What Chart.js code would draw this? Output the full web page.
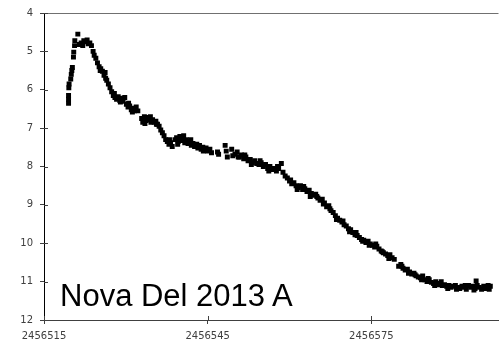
<!DOCTYPE html>
<html><head><meta charset="utf-8">
<script src="https://cdn.jsdelivr.net/npm/chart.js@4"></script>
<style>
html,body{margin:0;padding:0;background:#fff;}
#wrap{position:relative;width:502px;height:341px;overflow:hidden;}
#label{position:absolute;left:60px;top:280px;font:31px/1 "Liberation Sans",Arial,sans-serif;color:#000;white-space:nowrap;}
</style></head><body>
<div id="wrap"><canvas id="c" width="502" height="341"></canvas><div id="label">Nova Del 2013 A</div></div>
<script>
// Julian Date origin and axis range
const JD0 = 2456515;
const JD_MAX = 2456598.3;
const xTickValues = [2456515, 2456545, 2456575];
const MAG_MIN = 4;
const MAG_MAX = 12;

// days after JD0
const dayOffsets = [
 4.5,4.5,4.5,4.55,4.6, 4.9,5.0,5.1,5.2, 5.4,5.45,5.6,5.65, 6.2,
 6.5,6.8,7.1,7.3,7.6,7.9,8.1,8.4,8.7,
 9.0,9.2,9.5,9.8,10.1,10.4,10.7,11.0,11.2,11.5,11.8,12.1,12.4,12.7,13.0,13.3,13.6,13.9,14.2,14.5,14.8,15.1,15.4,15.7,16.0,16.3,16.6,16.9,17.2,
 17.9,18.1,18.4,18.7,19.0,19.3,19.6,19.9,20.2,20.5,20.8,21.1,21.4,21.7,22.0,22.3,22.6,22.9,23.2,23.5,
 24.0,24.3,24.6,24.9,25.2,25.5,25.8,26.1,26.4,26.7,27.0,27.3,27.6,27.9,28.2,28.5,28.8,29.1,29.4,29.7,30.0,30.4,
 30.7,31.8,32.0,33.2,33.4,33.6,34.4,34.6,
 35.0,35.4,35.8,36.2,36.6,37.0,37.4,37.8,38.2,38.6,39.0,39.4,39.8,40.2,40.6,41.0,41.4,41.8,42.2,42.6,43.0,43.5,43.8,
 44.2,44.6,45.0,45.4,45.8,46.2,46.6,47.0,47.4,47.8,48.2,48.6,49.0,49.4,49.8,50.2,50.6,51.0,51.4,51.8,52.2,52.6,53.0,53.4,53.8,
 54.2,54.6,55.0,55.4,55.8,56.2,56.6,57.0,57.4,57.8,58.2,58.6,59.0,59.4,59.8,60.2,60.6,61.0,61.4,61.8,62.2,62.6,63.0,63.4,63.8,64.2,
 65.0,65.4,65.8,66.2,66.6,67.0,67.4,67.8,68.2,68.6,69.0,69.4,69.8,70.2,70.6,71.0,71.4,71.8,72.2,72.6,73.0,73.4,73.8,74.2,74.6,
 75.0,75.4,75.8,76.2,76.6,77.0,77.4,77.8,78.2,78.6,79.0,79.4,79.8,80.2,80.6,81.0,81.4,81.8,
 10.3,11.3,12.9,14.0,15.5,16.2,18.5,19.5,20.6,23.0,24.5,25.6,26.9,28.0,29.2,35.6,36.8,38.0,39.6,41.2,42.8,
 45.2,46.4,47.6,48.8,50.0,51.2,52.4,53.6,54.8,56.0,57.2,58.4,59.6,60.8,62.0,63.2,
 65.6,66.8,68.0,69.2,70.4,71.6,72.8,74.0,75.6,77.2,78.8,79.2,80.8,81.6
];
// visual magnitude
const magnitudes = [
 6.35,6.25,6.15,5.95,5.85, 5.72,5.6,5.5,5.42, 5.15,5.02,4.85,4.72, 4.55,
 4.82,4.78,4.85,4.72,4.75,4.7,4.8,4.78,4.85,
 5.0,5.1,5.18,5.3,5.4,5.45,5.52,5.62,5.55,5.75,5.85,5.95,6.05,6.15,6.2,6.25,6.18,6.28,6.22,6.3,6.2,6.38,6.45,6.42,6.52,6.48,6.55,6.45,6.55,
 6.75,6.85,6.7,6.8,6.72,6.78,6.85,6.78,6.85,6.82,6.9,6.95,7.05,7.12,7.2,7.3,7.35,7.42,7.38,7.48,
 7.3,7.25,7.35,7.22,7.32,7.28,7.38,7.3,7.4,7.35,7.45,7.4,7.48,7.45,7.52,7.45,7.55,7.5,7.58,7.52,7.6,7.55,
 7.64,7.62,7.68,7.45,7.6,7.75,7.55,7.72,
 7.68,7.62,7.75,7.7,7.8,7.75,7.85,7.82,7.9,7.85,7.92,7.95,7.9,8.0,7.95,8.05,8.0,8.08,8.05,8.12,8.05,7.92,8.15,
 8.25,8.3,8.38,8.45,8.42,8.5,8.55,8.5,8.6,8.58,8.65,8.62,8.7,8.75,8.72,8.82,8.88,8.85,8.95,9.05,9.02,9.15,9.2,9.28,9.35,
 9.4,9.45,9.52,9.55,9.62,9.65,9.72,9.78,9.8,9.85,9.9,9.92,9.98,9.95,10.02,10.05,10.1,10.08,10.15,10.2,10.25,10.28,10.32,10.3,10.38,10.42,
 10.6,10.55,10.65,10.7,10.68,10.75,10.8,10.78,10.85,10.88,10.9,10.85,10.95,11.0,10.95,11.02,11.05,11.0,11.08,11.05,11.1,11.08,11.12,11.1,11.15,
 11.12,11.1,11.15,11.18,11.12,11.15,11.2,11.1,11.15,11.12,11.18,11.1,11.15,11.2,11.12,11.15,11.1,11.12,
 5.5,5.7,6.1,6.32,6.35,6.58,6.88,6.7,6.9,7.3,7.42,7.2,7.3,7.42,7.6,7.75,7.7,7.95,7.85,8.12,8.0,
 8.35,8.6,8.52,8.78,8.78,8.98,9.1,9.38,9.42,9.7,9.72,9.95,10.05,10.02,10.22,10.4,
 10.6,10.78,10.82,10.95,10.92,11.1,11.0,11.18,11.2,11.1,11.22,10.98,11.18,11.2
];

const points = dayOffsets.map((d, i) => ({ x: JD0 + d, y: magnitudes[i] }));

const frame = {
  id: 'frame',
  afterDraw(chart) {
    const { ctx, chartArea: a, scales } = chart;
    ctx.save();
    ctx.lineWidth = 1;
    ctx.strokeStyle = '#707070';
    ctx.beginPath();
    ctx.moveTo(a.left, a.top + 0.5);
    ctx.lineTo(a.right, a.top + 0.5);
    ctx.stroke();
    // inner halves of cross tick marks
    ctx.strokeStyle = '#404040';
    ctx.beginPath();
    scales.x.ticks.forEach(t => {
      const px = Math.round(scales.x.getPixelForValue(t.value)) + 0.5;
      ctx.moveTo(px, a.bottom);
      ctx.lineTo(px, a.bottom - 4);
    });
    scales.y.ticks.forEach(t => {
      const py = Math.round(scales.y.getPixelForValue(t.value)) + 0.5;
      ctx.moveTo(a.left, py);
      ctx.lineTo(a.left + 4, py);
    });
    ctx.stroke();
    ctx.restore();
  }
};

new Chart(document.getElementById('c'), {
  type: 'scatter',
  data: { datasets: [{
    data: points,
    pointStyle: 'rect',
    pointRadius: 3.5,
    pointHoverRadius: 3.5,
    backgroundColor: '#000',
    borderColor: '#000',
    borderWidth: 0
  }]},
  options: {
    responsive: false,
    animation: false,
    devicePixelRatio: 1,
    layout: { padding: { top: 12, left: 0, right: 0, bottom: 0 } },
    plugins: { legend: { display: false }, tooltip: { enabled: false } },
    scales: {
      x: {
        type: 'linear', position: 'bottom',
        min: JD0, max: JD_MAX,
        afterFit(s) { s.height = 21; },
        afterBuildTicks(s) { s.ticks = xTickValues.map(v => ({ value: v })); },
        ticks: {
          autoSkip: false, maxRotation: 0,
          callback: v => String(v),
          font: { family: 'DejaVu Sans', size: 10 }, color: '#404040', padding: 6
        },
        grid: { drawOnChartArea: false, tickLength: 4, color: '#404040' },
        border: { color: '#404040', width: 1 }
      },
      y: {
        reverse: true, min: MAG_MIN, max: MAG_MAX,
        afterFit(s) { s.width = 44; },
        ticks: {
          stepSize: 1, autoSkip: false,
          font: { family: 'DejaVu Sans', size: 10 }, color: '#404040', padding: 7
        },
        grid: { drawOnChartArea: false, tickLength: 4, color: '#404040' },
        border: { color: '#000', width: 1 }
      }
    }
  },
  plugins: [frame]
});
</script>
</body></html>
